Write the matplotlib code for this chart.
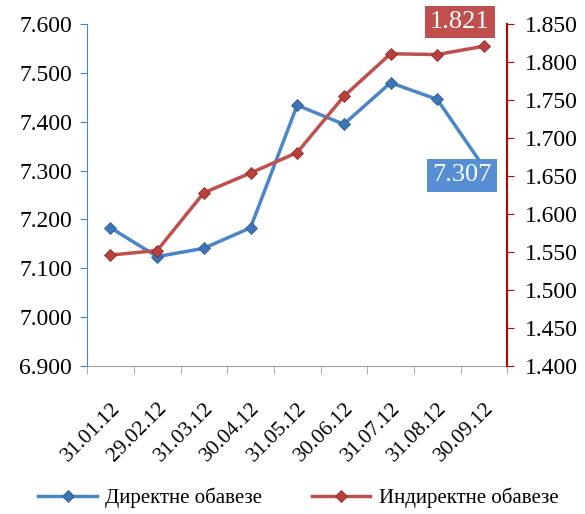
import matplotlib.pyplot as plt
import numpy as np

plt.rcParams['font.family'] = ['Liberation Serif', 'DejaVu Serif']

dates = ['31.01.12', '29.02.12', '31.03.12', '30.04.12', '31.05.12',
         '30.06.12', '31.07.12', '31.08.12', '30.09.12']
direct = [7.183, 7.124, 7.141, 7.183, 7.434, 7.395, 7.480, 7.446, 7.307]
indirect = [1.546, 1.552, 1.628, 1.654, 1.681, 1.755, 1.811, 1.810, 1.821]

blue = '#4A86C8'
red = '#C0504D'

fig = plt.figure(figsize=(5.85, 5.14), dpi=100)
ax = fig.add_axes([0.149, 0.288, 0.718, 0.665])
ax2 = ax.twinx()

x = np.arange(len(dates))
ax.plot(x, direct, color=blue, linewidth=2.5, marker='D', markersize=6,
        markerfacecolor='#3C74B4', markeredgecolor='#2F5F95', markeredgewidth=0.6,
        label='Директне обавезе', zorder=3)
ax2.plot(x, indirect, color=red, linewidth=2.5, marker='D', markersize=6,
         markerfacecolor='#B8403D', markeredgecolor='#8E2E2B', markeredgewidth=0.6,
         label='Индиректне обавезе', zorder=3)

ax.set_xlim(-0.5, len(dates) - 0.5)
ax.set_ylim(6.9, 7.6)
ax2.set_ylim(1.4, 1.85)
ax.set_yticks(np.arange(6.9, 7.601, 0.1))
ax2.set_yticks(np.arange(1.4, 1.851, 0.05))
ax.set_yticklabels([f'{v:.3f}' for v in np.arange(6.9, 7.601, 0.1)])
ax2.set_yticklabels([f'{v:.3f}' for v in np.arange(1.4, 1.851, 0.05)])

ax.set_xticks(x)
ax.set_xticklabels(dates, rotation=45, ha='right', rotation_mode='anchor')
ax.set_xticks(np.arange(-0.5, len(dates)), minor=True)
ax.tick_params(axis='x', which='major', length=0, pad=24, labelsize=15.5)
ax.tick_params(axis='x', which='minor', length=6, color='#A0A0A0', direction='out')
ax.tick_params(axis='y', length=5, color=blue, labelsize=17, pad=6)
ax2.tick_params(axis='y', length=5, color='#C00000', labelsize=17, pad=8)

for a in (ax, ax2):
    a.spines['top'].set_visible(False)
ax.spines['bottom'].set_color('#A0A0A0')
ax2.spines['bottom'].set_visible(False)
ax.spines['right'].set_visible(False)
ax2.spines['left'].set_visible(False)
ax.spines['left'].set_color(blue)
ax2.spines['right'].set_color('#C00000')
ax2.spines['right'].set_linewidth(1.5)

ax.annotate(f'{direct[-1]:.3f}', (x[-1], direct[-1]),
            xytext=(-22, -8), textcoords='offset pixels', ha='center', va='center',
            fontsize=19, color='white', zorder=5,
            bbox=dict(boxstyle='square,pad=0.2', fc='#558ED5', ec='none'))
ax2.annotate(f'{indirect[-1]:.3f}', (x[-1], indirect[-1]),
             xytext=(-24, 24), textcoords='offset pixels', ha='center', va='center',
             fontsize=19, color='white', zorder=5, annotation_clip=False,
             bbox=dict(boxstyle='square,pad=0.2', fc=red, ec='none'))

h1, l1 = ax.get_legend_handles_labels()
h2, l2 = ax2.get_legend_handles_labels()
fig.legend(h1 + h2, l1 + l2, loc='lower center', ncol=2, frameon=False,
           fontsize=15, bbox_to_anchor=(0.51, -0.025), handlelength=2.8,
           columnspacing=2.4, handletextpad=0.4)

fig.savefig('out.png', dpi=100)
